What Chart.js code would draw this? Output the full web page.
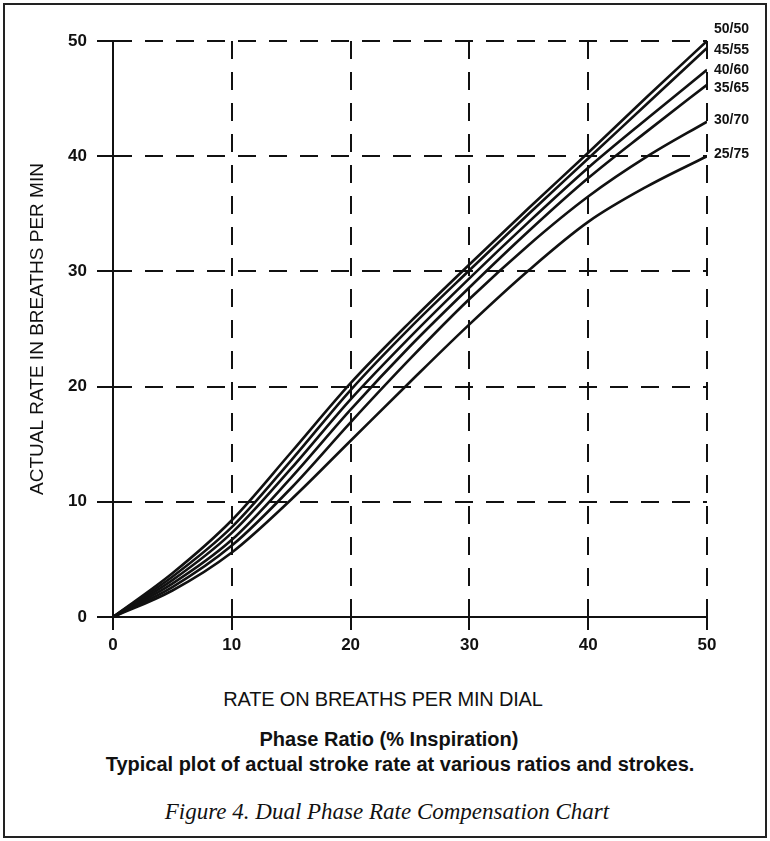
<!DOCTYPE html>
<html>
<head>
<meta charset="utf-8">
<script src="https://cdn.jsdelivr.net/npm/chart.js@4"></script>
<style>
  html, body { margin: 0; padding: 0; background: #fff; }
  body { width: 770px; height: 841px; position: relative; overflow: hidden; font-family: "Liberation Sans", Arial, sans-serif; color: #111; }
  #frame { position: absolute; left: 3px; top: 3px; width: 760px; height: 831px; border: 2px solid #222; }
  #chart { position: absolute; left: 0; top: 0; }
  .txt { position: absolute; white-space: nowrap; transform: translateX(-50%); line-height: 1.15; }
  #xTitle { left: 383px; top: 688px; font-size: 20px; letter-spacing: -0.2px; }
  #cap1 { left: 389px; top: 728px; font-size: 20px; font-weight: bold; }
  #cap2 { left: 400px; top: 753px; font-size: 20px; font-weight: bold; }
  #cap3 { left: 387px; top: 799px; font-size: 23px; font-style: italic; font-family: "Liberation Serif", "DejaVu Serif", serif; }
</style>
</head>
<body>
<div id="frame"></div>
<canvas id="chart" width="770" height="680"></canvas>
<div class="txt" id="xTitle">RATE ON BREATHS PER MIN DIAL</div>
<div class="txt" id="cap1">Phase Ratio (% Inspiration)</div>
<div class="txt" id="cap2">Typical plot of actual stroke rate at various ratios and strokes.</div>
<div class="txt" id="cap3">Figure 4. Dual Phase Rate Compensation Chart</div>
<script>
// dial setting (x) and actual rate for each phase ratio
const dialRate  = [0, 5, 10, 15, 20, 25, 30, 35, 40, 45, 50];
const ratio5050 = [0, 3.8, 8.4, 14.3, 20.3, 25.6, 30.6, 35.5, 40.3, 45.2, 50.0];
const ratio4555 = [0, 3.5, 7.8, 13.6, 19.7, 25.1, 30.1, 35.0, 39.8, 44.6, 49.4];
const ratio4060 = [0, 3.2, 7.3, 12.9, 18.9, 24.3, 29.4, 34.3, 39.0, 43.3, 47.5];
const ratio3565 = [0, 2.9, 6.7, 12.1, 18.0, 23.5, 28.6, 33.5, 38.1, 42.2, 46.2];
const ratio3070 = [0, 2.6, 6.2, 11.2, 16.9, 22.4, 27.6, 32.3, 36.5, 40.0, 43.0];
const ratio2575 = [0, 2.3, 5.6, 10.2, 15.3, 20.4, 25.4, 30.1, 34.3, 37.4, 40.0];
const ratioNames = ['50/50', '45/55', '40/60', '35/65', '30/70', '25/75'];
const xTicks = [0, 10, 20, 30, 40, 50];
const yTicks = [0, 10, 20, 30, 40, 50];

const allSeries = [ratio5050, ratio4555, ratio4060, ratio3565, ratio3070, ratio2575];

// little vertical nudges so the end labels don't collide
const labelNudge = [-12, 2, 0, 3, -1, -2];

const endLabels = {
    id: 'endLabels',
    afterDatasetsDraw(chart) {
        const ctx = chart.ctx;
        ctx.save();
        ctx.font = 'bold 14px "Liberation Sans", Arial, sans-serif';
        ctx.fillStyle = '#111';
        ctx.textAlign = 'left';
        ctx.textBaseline = 'middle';
        chart.data.datasets.forEach((ds, i) => {
            const pts = chart.getDatasetMeta(i).data;
            const last = pts[pts.length - 1];
            ctx.fillText(ds.label, last.x + 7, last.y + labelNudge[i]);
        });
        ctx.restore();
    }
};

const tickFont = { family: '"Liberation Sans", Arial, sans-serif', size: 17, weight: 'bold' };

new Chart(document.getElementById('chart'), {
    type: 'line',
    data: {
        datasets: allSeries.map((vals, i) => ({
            label: ratioNames[i],
            data: vals.map((v, k) => ({ x: dialRate[k], y: v })),
            borderColor: '#111',
            borderWidth: 2.6,
            pointRadius: 0,
            fill: false,
            cubicInterpolationMode: 'monotone'
        }))
    },
    options: {
        responsive: false,
        animation: false,
        layout: { padding: { left: 10, top: 41, right: 63, bottom: 0 } },
        plugins: { legend: { display: false }, tooltip: { enabled: false } },
        scales: {
            x: {
                type: 'linear',
                min: 0, max: 50,
                afterBuildTicks: s => { s.ticks = xTicks.map(v => ({ value: v })); },
                afterFit: s => { s.height = 63; },
                ticks: { color: '#111', font: tickFont, padding: 5, maxRotation: 0 },
                grid: { color: '#111', lineWidth: 2, tickLength: 13, tickColor: '#111', tickWidth: 2 },
                border: { color: '#111', width: 2, dash: [18, 13] }
            },
            y: {
                type: 'linear',
                min: 0, max: 50,
                afterBuildTicks: s => { s.ticks = yTicks.map(v => ({ value: v })); },
                afterFit: s => { s.width = 103; },
                ticks: { color: '#111', font: tickFont, padding: 10 },
                grid: { color: '#111', lineWidth: 2, tickLength: 16, tickColor: '#111', tickWidth: 2 },
                border: { color: '#111', width: 2, dash: [18, 13] },
                title: {
                    display: true,
                    text: 'ACTUAL RATE IN BREATHS PER MIN',
                    color: '#111',
                    font: { family: '"Liberation Sans", Arial, sans-serif', size: 19 },
                    padding: { top: 16, bottom: 0 }
                }
            }
        }
    },
    plugins: [endLabels]
});
</script>
</body>
</html>
